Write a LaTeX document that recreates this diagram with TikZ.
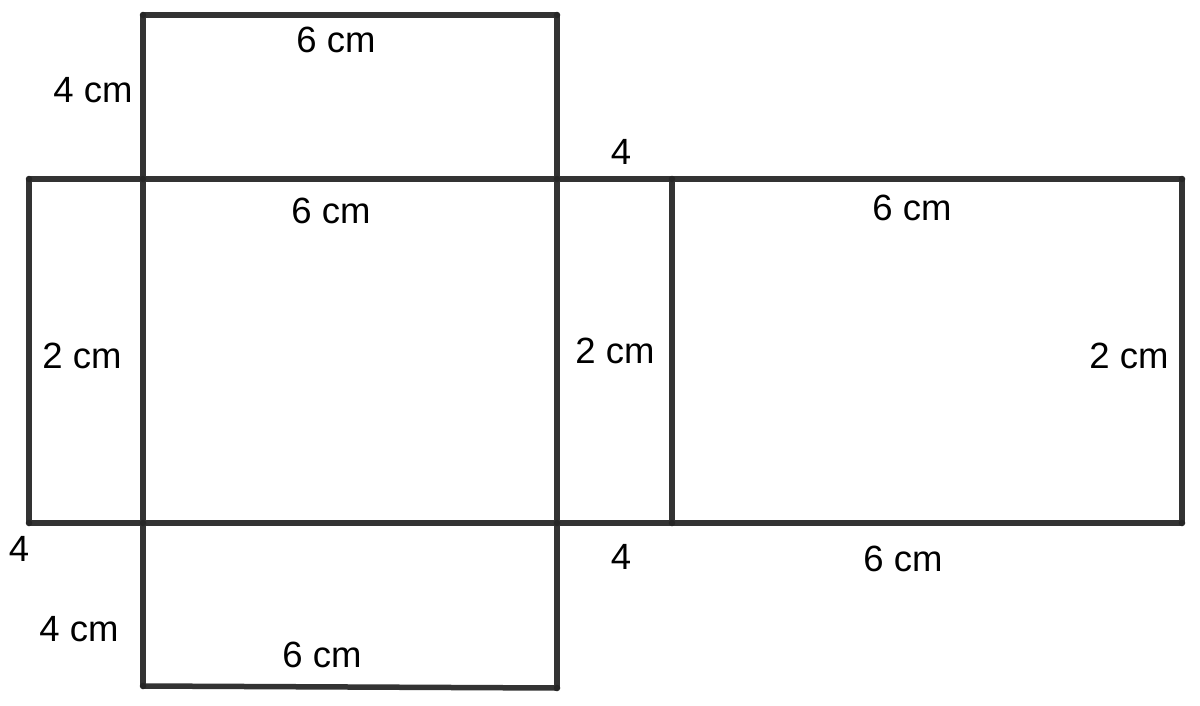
\documentclass[tikz,border=0pt]{standalone}
\usepackage{fontspec}
\setmainfont{Liberation Sans}
\definecolor{edge}{HTML}{333333}
\begin{document}
\begin{tikzpicture}[x=1pt,y=-1pt,
  edgeline/.style={draw=edge,line width=5.5pt},
  lbl/.style={inner sep=0pt,font=\fontsize{36.5}{42}\selectfont,text=black},
  pt/.style={fill=black!85,circle,inner sep=0pt,minimum size=6.5pt}]
\useasboundingbox (0,0) rectangle (1200,705);
% corners
\coordinate (A) at (143,15);
\coordinate (B) at (557,15);
\coordinate (C) at (29,179);
\coordinate (D) at (143,179);
\coordinate (E) at (557,179);
\coordinate (F) at (672,179);
\coordinate (G) at (1182,179);
\coordinate (H) at (29,523);
\coordinate (I) at (143,523);
\coordinate (J) at (557,523);
\coordinate (K) at (672,523);
\coordinate (L) at (1182,523);
\coordinate (M) at (143,686);
\coordinate (N) at (557,688);
% lines
\draw[edgeline] (A) -- (B);
\draw[edgeline] (C) -- (G);
\draw[edgeline] (H) -- (L);
\draw[edgeline] (M) -- (N);
\draw[edgeline] (C) -- (H);
\draw[edgeline] (A) -- (M);
\draw[edgeline] (B) -- (N);
\draw[edgeline] (F) -- (K);
\draw[edgeline] (G) -- (L);
% end dots
\foreach \p in {A,B,C,D,E,F,G,H,I,J,K,L,M,N}
  \node[pt] (d\p) at (\p) {};
% labels
\node[lbl] (l1) at (336,40) {6 cm};
\node[lbl] (l2) at (93,90) {4 cm};
\node[lbl] (l3) at (621,152) {4};
\node[lbl] (l4) at (331,211) {6 cm};
\node[lbl] (l5) at (912,208) {6 cm};
\node[lbl] (l6) at (82,356) {2 cm};
\node[lbl] (l7) at (615,351) {2 cm};
\node[lbl] (l8) at (1129,356) {2 cm};
\node[lbl] (l9) at (19,549) {4};
\node[lbl] (l10) at (621,557) {4};
\node[lbl] (l11) at (903,559) {6 cm};
\node[lbl] (l12) at (79,629) {4 cm};
\node[lbl] (l13) at (322,655) {6 cm};
\end{tikzpicture}
\end{document}
